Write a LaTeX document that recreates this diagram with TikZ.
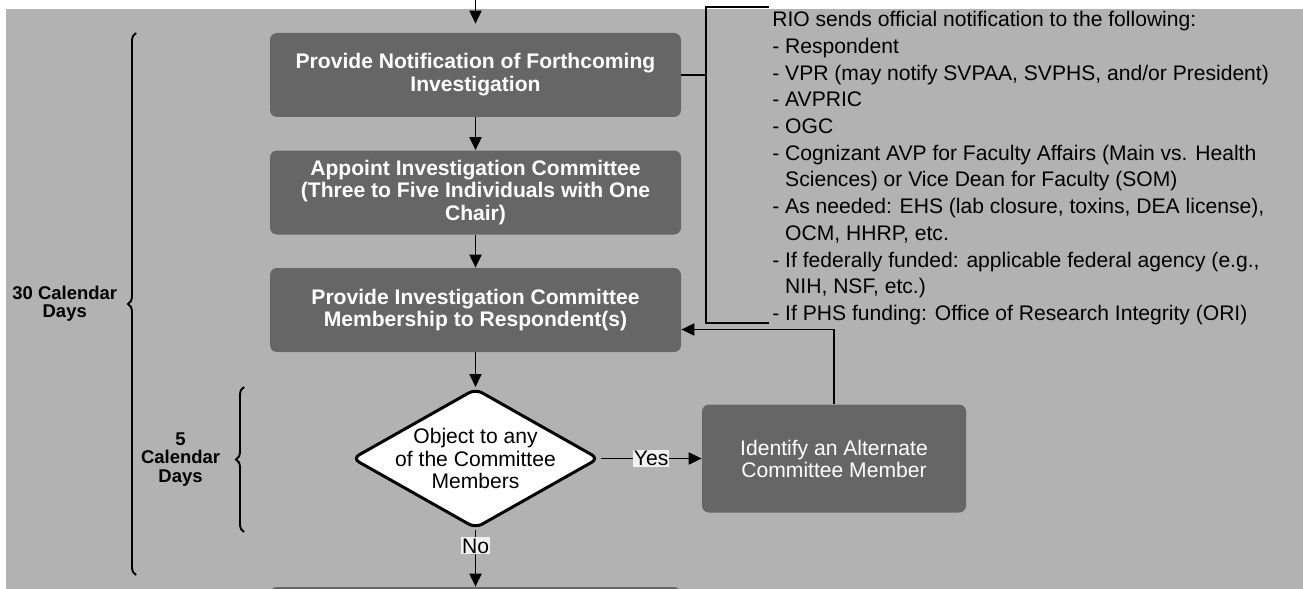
\documentclass[tikz,border=0pt]{standalone}
\usepackage{fontspec}
\setmainfont{Liberation Sans}
\usepackage{tikz}
\usetikzlibrary{shapes.geometric, arrows.meta, decorations.pathreplacing}
\definecolor{sheet}{HTML}{B2B2B2}
\definecolor{boxgrey}{HTML}{666666}
\definecolor{tagfill}{HTML}{F0F0F0}
\tikzstyle{action} = [rectangle, rounded corners=0.14cm, minimum width=8.22cm, minimum height=1.68cm, text centered, align=center, fill=boxgrey, text=white, font=\fontsize{12}{13}\selectfont\bfseries]
\tikzstyle{choice} = [diamond, aspect=1.76, minimum width=4.94cm, minimum height=2.8cm, inner xsep=-0.5cm, inner ysep=0pt, rounded corners=0.15cm, draw=black, line width=1.7pt, fill=white, text centered, align=center, font=\fontsize{12}{13}\selectfont]
\tikzstyle{arrow} = [line width=1.1pt, -{Triangle[width=0.24cm, length=0.26cm]}]
\tikzstyle{answer} = [fill=tagfill, inner sep=0.6pt, font=\fontsize{12}{13}\selectfont]
\tikzstyle{brace} = [decorate, decoration={brace, amplitude=0.16cm}, line width=1.1pt]
\tikzstyle{days} = [font=\fontsize{10.5}{10.5}\selectfont\bfseries, align=center, inner sep=0pt]

\begin{document}
\begin{tikzpicture}[node distance=2.35cm]
    \useasboundingbox (0,0) rectangle (26.06,-11.78);
    \clip (0,0) rectangle (26.06,-11.78);
    \fill[sheet] (0.12,-0.18) rectangle (26.06,-11.78);

    \node (notify) [action] at (9.51,-1.5) {Provide Notification of Forthcoming\\Investigation};
    \node (appoint) [action, below of=notify] {Appoint Investigation Committee\\(Three to Five Individuals with One\\Chair)};
    \node (members) [action, below of=appoint] {Provide Investigation Committee\\Membership to Respondent(s)};
    \node (object) [choice, below of=members, yshift=-0.62cm] {Object to any\\of the Committee\\Members};
    \node (alternate) [action, right of=object, xshift=4.82cm, minimum width=5.28cm, minimum height=2.16cm, font=\fontsize{12}{12.5}\selectfont] {Identify an Alternate\\Committee Member};
    \node (nextstep) [action, below of=object, yshift=-1.06cm] {};
    \node (recipients) [anchor=north west, inner sep=0pt, align=left, font=\fontsize{12}{15.2}\selectfont] at (15.44,-0.22) {RIO sends official notification to the following:\\
- Respondent\\
- VPR (may notify SVPAA, SVPHS, and/or President)\\
- AVPRIC\\
- OGC\\
- Cognizant AVP for Faculty Affairs (Main vs. Health\\
\hphantom{- }Sciences) or Vice Dean for Faculty (SOM)\\
- As needed: EHS (lab closure, toxins, DEA license),\\
\hphantom{- }OCM, HHRP, etc.\\
- If federally funded: applicable federal agency (e.g.,\\
\hphantom{- }NIH, NSF, etc.)\\
- If PHS funding: Office of Research Integrity (ORI)};

    \coordinate (entry) at (9.51,0);
    \coordinate (fork) at (14.12,0);

    \draw [arrow, shorten >=0.18cm] (entry) -- (notify);
    \draw [arrow] (notify) -- (appoint);
    \draw [arrow] (appoint) -- (members);
    \draw [arrow] (members) -- (object);
    \draw [arrow] (object) -- node[answer] (yes) {Yes} (alternate);
    \draw [arrow] (object) -- node[answer, pos=0.28] (no) {No} (nextstep);
    \draw [arrow] (alternate.north) |- ([yshift=-0.39cm]members.east);

    % notification list bracket
    \draw [line width=1.1pt] (notify.east) -- (notify.east -| fork);
    \draw [line width=1.1pt] (15.38,-0.14) -| (14.12,-6.46) -- (15.38,-6.46);

    \draw [brace] (2.72,-11.5) -- (2.72,-0.66) node[days, midway, left=0.36cm] (thirty) {30 Calendar\\Days};
    \draw [brace] (4.88,-10.64) -- (4.88,-7.74) node[days, midway, left=0.46cm] (five) {5\\Calendar\\Days};
\end{tikzpicture}
\end{document}
